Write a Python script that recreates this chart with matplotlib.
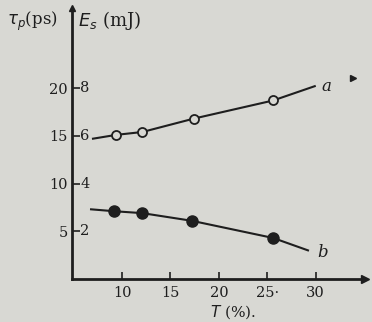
"""
Pulse width / energy vs T curves (scanned figure recreation).
"""
import matplotlib

matplotlib.use("Agg", force=True)
import matplotlib.pyplot as plt
import matplotlib.transforms as mtransforms

# curve a: tau_p (ps), open circles
a_line_T = [7.0, 9.4, 12.1, 17.4, 25.6, 29.9]
a_line_v = [14.7, 15.1, 15.4, 16.8, 18.7, 20.2]
a_pts_T = [9.4, 12.1, 17.4, 25.6]
a_pts_v = [15.1, 15.4, 16.8, 18.7]

# curve b: E_s scale (same plot units), filled circles
b_line_T = [6.8, 9.2, 12.1, 17.2, 25.6, 29.2]
b_line_v = [7.3, 7.1, 6.9, 6.1, 4.3, 3.0]
b_pts_T = [9.2, 12.1, 17.2, 25.6]
b_pts_v = [7.1, 6.9, 6.1, 4.3]

x_ticks = [10, 15, 20, 25, 30]
x_labels = ["10", "15", "20", "25·", "30"]
tau_ticks = [5, 10, 15, 20]
es_labels = ["2", "4", "6", "8"]

BG = "#d8d8d3"
INK = "#1e1e1e"
plt.rcParams["font.family"] = ["DejaVu Serif"]

fig = plt.figure(figsize=(3.72, 3.22), dpi=100, facecolor=BG)
ax = fig.add_axes([0.1935, 0.1335, 0.788, 0.842], facecolor=BG)

ax.plot(a_line_T, a_line_v, color=INK, lw=1.5)
ax.plot(a_pts_T, a_pts_v, "o", ms=6.5, mfc=BG, mec=INK, mew=1.3)
ax.plot(b_line_T, b_line_v, color=INK, lw=1.5)
ax.plot(b_pts_T, b_pts_v, "o", ms=8, color=INK)

ax.set_xlim(4.83, 35.1)
ax.set_ylim(0, 28.4)

for side in ("top", "right"):
    ax.spines[side].set_visible(False)
for side in ("left", "bottom"):
    ax.spines[side].set_linewidth(2)
    ax.spines[side].set_color(INK)

ax.set_xticks(x_ticks)
ax.set_xticklabels(x_labels)
ax.set_yticks(tau_ticks)
ax.set_yticklabels([str(t) for t in tau_ticks])
ax.tick_params(axis="x", direction="in", length=5, width=1.2, colors=INK, labelsize=10.5, pad=5)
ax.tick_params(axis="y", direction="in", length=6, width=1.2, colors=INK, labelsize=10.5, pad=3)

# E_s labels on the right side of the axis line
trans = mtransforms.blended_transform_factory(ax.transAxes, ax.transData)
for t, lab in zip(tau_ticks, es_labels):
    ax.text(0.028, t, lab, transform=trans, ha="left", va="center", fontsize=10.5, color=INK)

# arrow heads on axes
ax.plot(1, 0, ">", color=INK, ms=6, transform=ax.transAxes, clip_on=False)
ax.plot(0, 1, "^", color=INK, ms=4, transform=ax.transAxes, clip_on=False)

# curve labels
ax.text(30.6, 20.2, "a", fontsize=12, style="italic", color=INK, va="center")
ax.text(30.2, 2.8, "b", fontsize=12, style="italic", color=INK, va="center")
ax.plot(33.8, 21.1, ">", color=INK, ms=5)

# axis titles
fig.text(0.02, 0.935, r"$\tau_p$(ps)", fontsize=12, color=INK, va="center")
fig.text(0.21, 0.935, r"$E_s$ (mJ)", fontsize=13, color=INK, va="center")
fig.text(0.625, 0.03, r"$T$ (%).", fontsize=11, color=INK, ha="center", va="center")

fig.savefig("out.png", dpi=100, facecolor=BG)
